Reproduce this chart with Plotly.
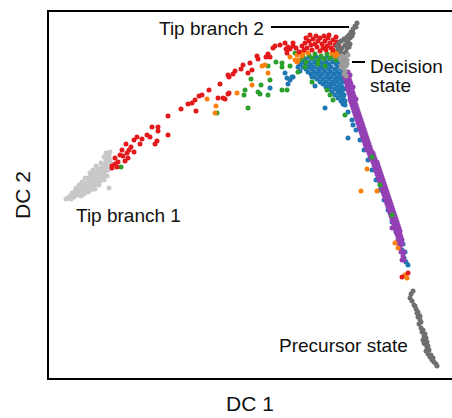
import plotly.graph_objects as go

tip1_pts = [(110,152),(109,156),(110,160),(108,164),(106,167),(104,170),(101,172),(99,175),(97,177),(95,179),
            (93,181),(91,183),(88,185),(86,187),(83,188),(81,190),(78,192),(76,193),(73,195),(70,196),(68,198),
            (106,161),(104,165),(102,168),(99,170),(97,173),(94,176),(92,178),(89,180),(86,183),(84,185),
            (81,187),(78,189),(75,191),(72,193),(102,175),(99,178),(96,181),(93,184),(90,186),(87,189),
            (84,190),(80,193),(77,195),(74,197),(112,164),(108,170),(105,174),(109,188),(107,158),(111,168),
            (98,168),(95,172),(91,175),(88,178),(103,178),(100,181),(97,184),(94,186),(106,153),(104,157),
            (101,163),(96,166),(93,170),(90,173),(85,178),(82,182),(79,185),(76,188),(107,176),(104,180),
            (99,185),(95,189),(91,190),(88,192),(84,194),(81,196),(71,199),(66,199)]

tip2_pts = [(357,23),(355,26),(353,29),(351,32),(349,35),(347,37),(344,39),(341,41),(339,43),(337,46),
            (350,38),(348,42),(345,45),(342,48),(340,50),(347,48),(350,44),(352,36),(346,52),(343,54),
            (341,52),(353,33),(356,27),(349,47),(345,40),(338,49)]

decision_pts = [(342,56),(345,58),(341,60),(344,62),(347,60),(342,64),(346,66),(343,68),(345,71),
                (344,74),(346,76),(340,58),(348,55),(347,64),(341,67)]

precursor_pts = [(413,291),(411,294),(410,298),(412,301),(414,305),(416,309),(417,313),(418,317),(420,320),
                 (419,324),(421,328),(422,332),(424,336),(423,340),(425,344),(427,347),(426,351),(428,354),
                 (430,357),(432,360),(434,362),(436,364),(437,366),(421,322),(423,330),(426,338),(427,342),
                 (429,350),(431,355),(433,358),(418,312),(415,306),(425,334),(428,346),(420,316),(424,343)]

red_pts = [(181,109),(168,116),(152,127),(158,127),(158,131),(168,135),(147,135),(150,137),(137,137),(142,139),
           (134,140),(157,141),(155,144),(126,144),(140,144),(131,147),(129,150),(122,150),(134,152),(127,153),
           (120,155),(115,158),(125,161),(118,162),(115,164),(112,166),(117,167),(112,168),(128,158),(123,156),
           (229,77),(220,84),(209,90),(229,93),(218,98),(225,99),(202,95),(199,96),(195,100),(192,103),
           (188,104),(196,111),(223,98),(228,75),(233,74),(235,71),(241,69),(243,65),(250,63),(248,73),
           (252,70),(257,56),(258,59),(266,57),(270,57),(268,54),(273,48),(275,46),(280,45),(285,43),
           (288,47),(290,49),(293,43),(286,49),(287,53),(228,94),
           (302,46),(305,43),(307,48),(309,41),(311,45),(313,39),(315,44),(317,47),(318,41),(320,38),
           (322,44),(323,48),(325,41),(327,46),(328,38),(330,43),(331,48),(333,40),(335,45),(336,37),
           (337,42),(339,47),(304,50),(312,50),(320,51),(326,50),(333,50),(306,38),(316,36),(324,36),
           (296,48),(299,52),(293,46),(310,35),(329,35),(402,277),(408,273)]

orange_pts = [(297,55),(300,52),(302,56),(298,60),(295,60),(303,53),(336,52),(338,55),(335,56),(332,53),
              (262,66),(265,65),(268,73),(252,85),(237,93),(216,106),(215,113),(207,99),(297,62),
              (367,169),(361,191),(377,191),(395,243),(398,248),(405,275),(407,278),(290,57),(308,53)]

green_pts = [(300,60),(303,57),(306,62),(309,55),(312,58),(315,54),(318,60),(321,56),(324,59),(327,54),
             (330,58),(333,55),(336,60),(339,57),(305,67),(298,72),(312,82),(327,90),(330,95),(333,100),
             (345,115),(372,157),(282,63),(282,67),(295,53),(268,66),(270,80),(261,85),(251,79),(248,108),
             (260,94),(244,95),(245,90),(258,92),(268,95),(282,90),(287,90),(217,113),(121,167),(380,185),
             (392,215),(318,64),(325,66),(290,66),(276,62)]

blue_pts = [(309,57),(316,57),(321,57),(327,57),(334,57),(339,57),
            (305,59),(312,59),(318,59),(324,59),(330,59),(336,59),(342,59),
            (303,62),(308,62),(315,62),(320,62),(326,62),(333,62),(339,62),(344,62),
            (300,64),(306,64),(311,64),(317,64),(323,64),(329,64),(336,64),(342,64),
            (303,67),(309,67),(314,67),(320,67),(326,67),(331,67),(338,67),(343,67),
            (306,69),(312,69),(318,69),(323,69),(329,69),(335,69),(341,69),
            (308,72),(314,72),(319,72),(325,72),(331,72),(337,72),(343,72),
            (311,74),(317,74),(322,74),(328,74),(334,74),(340,74),
            (314,77),(320,77),(326,77),(331,77),(337,77),(342,77),
            (317,79),(323,79),(329,79),(335,79),(340,79),(345,79),
            (320,82),(326,82),(332,82),(337,82),(343,82),
            (323,84),(329,84),(334,84),(340,84),
            (326,87),(331,87),(337,87),(342,87),
            (329,89),(335,89),(340,89),(344,89),
            (332,92),(338,92),(342,92),
            (335,95),(340,95),(344,95),
            (338,98),(343,98),(341,101),(345,101),(343,104),
            (298,67),(300,71),(285,73),(292,77),(290,80),(287,78),(293,77),(288,84),(270,88),(315,86),
            (312,77),(325,108),(348,138),(353,125),(377,163),
            (345,105),(348,112),(352,120),(356,130),(360,140),(364,150),(368,160),(372,170),(376,180),
            (380,190),(384,200),(388,210),(392,222),(396,232),(399,240),(402,250),(404,258),(408,265),
            (406,262),(400,236),(403,244),(405,252),(398,228),(394,218),(390,207)]

purple_pts = [(345,72),(348,72),(344,75),(347,75),(350,75),(345,78),(349,78),(346,81),(350,81),(348,81),
              (347,84),(351,84),(347,87),(350,87),(353,87),(348,90),(352,90),(349,93),(353,93),(351,93),
              (350,96),(354,96),(350,99),(353,99),(356,99),(351,102),(355,102),(352,105),(356,105),(354,105),
              (353,108),(357,108),(354,111),(358,111),(356,111),(355,114),(359,114),(356,117),(360,117),
              (358,117),(357,120),(361,120),(358,123),(362,123),(360,123),(359,126),(363,126),(360,129),
              (364,129),(362,129),(361,132),(365,132),(362,135),(366,135),(364,135),(363,138),(367,138),
              (364,141),(368,141),(366,141),(365,144),(369,144),(366,147),(370,147),(368,147),(367,150),
              (371,150),(369,153),(373,153),(371,153),(370,156),(374,156),(371,159),(375,159),(373,159),
              (373,162),(377,162),(374,165),(378,165),(376,165),(375,168),(379,168),(376,171),(380,171),
              (378,171),(377,174),(381,174),(378,177),(382,177),(380,177),(379,180),(383,180),(380,183),
              (384,183),(382,183),(381,186),(385,186),(382,189),(386,189),(384,189),(383,192),(387,192),
              (384,195),(388,195),(386,195),(385,198),(389,198),(386,201),(390,201),(388,201),(387,204),
              (391,204),(388,207),(392,207),(390,207),(389,210),(393,210),(390,213),(394,213),(392,213),
              (391,216),(395,216),(392,219),(396,219),(394,219),(393,222),(397,222),(394,225),(398,225),
              (396,225),(395,228),(399,228),(396,231),(400,231),(397,234),(400,234),(398,237),(401,237),
              (398,240),(402,240),(399,244),(402,244),(400,248),(401,252),(404,252),(403,256),(404,260),
              (392,228),(402,260)]

groups = [
    ("Tip branch 1", tip1_pts, "#c8c8c8"),
    ("Precursor", precursor_pts, "#6f6f6f"),
    ("blue", blue_pts, "#1f77b4"),
    ("purple", purple_pts, "#9440b4"),
    ("green", green_pts, "#2ca02c"),
    ("orange", orange_pts, "#ff7f0e"),
    ("red", red_pts, "#e3191c"),
    ("Tip branch 2", tip2_pts, "#6f6f6f"),
    ("Decision", decision_pts, "#9c9c9c"),
]

fig = go.Figure()
for name, pts, col in groups:
    fig.add_trace(go.Scatter(
        x=[p[0] for p in pts], y=[p[1] for p in pts], mode="markers", name=name,
        marker=dict(size=5, color=col, line=dict(width=0)), showlegend=False, hoverinfo="skip"))

font = dict(family="Liberation Sans, Arial, sans-serif", size=19, color="#111111")
fig.add_annotation(x=157, y=28, text="Tip branch 2", showarrow=False, xanchor="left", yanchor="middle", font=font)
fig.add_annotation(x=368, y=66, text="Decision", showarrow=False, xanchor="left", yanchor="middle", font=font)
fig.add_annotation(x=368, y=85, text="state", showarrow=False, xanchor="left", yanchor="middle", font=font)
fig.add_annotation(x=74, y=215, text="Tip branch 1", showarrow=False, xanchor="left", yanchor="middle", font=font)
fig.add_annotation(x=277, y=345, text="Precursor state", showarrow=False, xanchor="left", yanchor="middle", font=font)

fig.add_shape(type="line", x0=271, x1=349, y0=27, y1=27, xref="x", yref="y", line=dict(color="black", width=2))
fig.add_shape(type="line", x0=352, x1=365, y0=62, y1=62, xref="x", yref="y", line=dict(color="black", width=2))

tfont = dict(family="Liberation Sans, Arial, sans-serif", size=21, color="#111111")
fig.add_annotation(xref="paper", yref="paper", x=0.4988, y=-0.071, text="DC 1", showarrow=False,
                   xanchor="center", yanchor="middle", font=tfont)
fig.add_annotation(xref="paper", yref="paper", x=-0.067, y=0.5, text="DC 2", showarrow=False, textangle=-90,
                   xanchor="center", yanchor="middle", font=tfont)

fig.update_xaxes(range=[49, 452], showgrid=False, zeroline=False, showticklabels=False, ticks="",
                 showline=True, linecolor="black", linewidth=2, mirror=True)
fig.update_yaxes(range=[378, 12], showgrid=False, zeroline=False, showticklabels=False, ticks="",
                 showline=True, linecolor="black", linewidth=2, mirror=False)
fig.update_layout(width=452, height=418, margin=dict(l=49, r=0, t=12, b=40),
                  plot_bgcolor="white", paper_bgcolor="white")
fig.write_html("out.html")
